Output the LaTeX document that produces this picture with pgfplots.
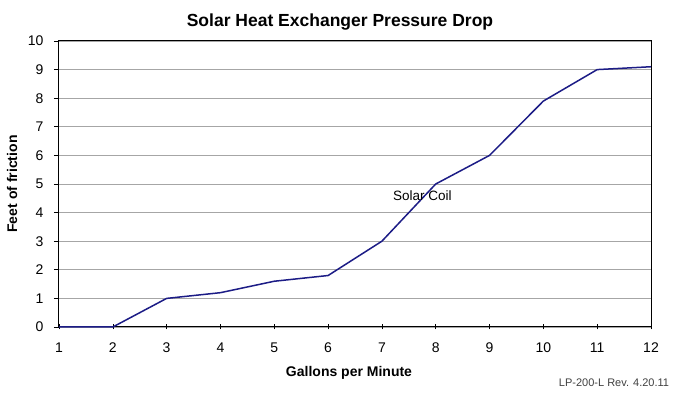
\documentclass[border=0pt]{standalone}
\usepackage{pgfplots}
\pgfplotsset{compat=1.18}
\usepackage{fontspec}
\setmainfont{Liberation Sans}
\definecolor{navy}{HTML}{1C1C86}
\begin{document}
\begin{tikzpicture}[x=1pt,y=1pt]
\useasboundingbox (-59,-66) rectangle (624,327);
\begin{axis}[
  at={(0,0)}, anchor=south west,
  scale only axis, width=592pt, height=286pt,
  xmin=1, xmax=12, ymin=0, ymax=10,
  xtick={1,...,12}, ytick={0,...,10},
  xtick pos=bottom, ytick pos=left,
  ymajorgrids, grid style={gray!70, line width=0.8pt},
  axis line style={black, line width=1pt},
  tick style={black, line width=0.6pt},
  major tick length=5pt,
  xtick align=center, ytick align=outside,
  tick label style={font=\fontsize{14}{16}\selectfont},
  /pgf/number format/assume math mode=true,
  xticklabel style={yshift=-10pt},
  yticklabel style={xshift=-7pt},
  clip=false,
]
\addplot[navy, line width=1.5pt] coordinates {
(1,0) (2,0) (3,1) (4,1.2) (5,1.6) (6,1.8) (7,3) (8,5) (9,6) (10,7.9) (11,9) (12,9.1)
};
\node[font=\fontsize{13.5}{15}\selectfont] at (axis cs:7.75,4.6) {Solar Coil};
\node[font=\bfseries\fontsize{17.5}{20}\selectfont] at (rel axis cs:0.5,1) [yshift=19pt, xshift=-15pt] {Solar Heat Exchanger Pressure Drop};
\node[font=\bfseries\fontsize{14}{16}\selectfont, rotate=90] at (rel axis cs:0,0.5) [yshift=47pt] {Feet of friction};
\node[font=\bfseries\fontsize{14}{16}\selectfont] at (rel axis cs:0.5,0) [yshift=-46pt, xshift=-6pt] {Gallons per Minute};
\end{axis}
\node[font=\fontsize{11}{12}\selectfont, text=black!75] at (555,-56) {LP-200-L Rev. 4.20.11};
\end{tikzpicture}
\end{document}
